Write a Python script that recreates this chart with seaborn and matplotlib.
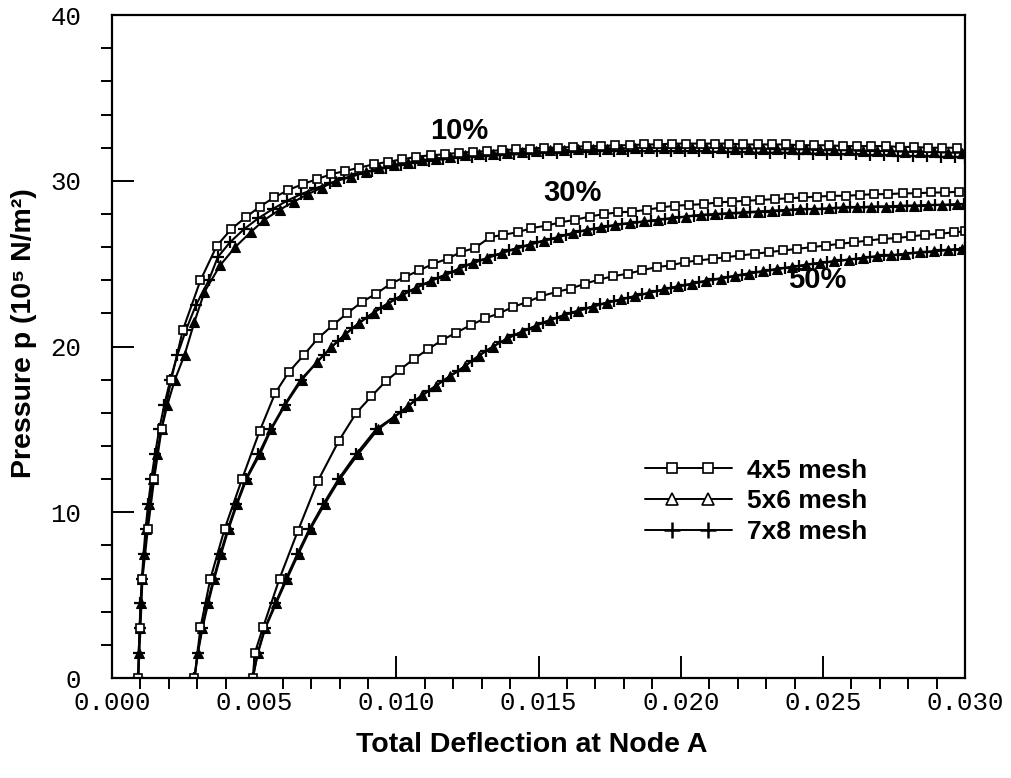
import matplotlib
matplotlib.use("Agg")
import matplotlib.pyplot as plt
import seaborn as sns
from matplotlib.lines import Line2D
from matplotlib.legend_handler import HandlerBase
from matplotlib.ticker import FixedLocator, MultipleLocator

# ---------------- data (deflection, pressure in 10^5 N/m^2) ----------------
x_10_4x5 = [0.00092, 0.00100, 0.00107, 0.00126, 0.00148, 0.00174, 0.00208, 0.00249, 0.00311, 0.00369,
            0.0042, 0.0047, 0.0052, 0.0057, 0.0062, 0.0067, 0.0072, 0.0077, 0.0082, 0.0087,
            0.0092, 0.0097, 0.0102, 0.0107, 0.0112, 0.0117, 0.0122, 0.0127, 0.0132, 0.0137,
            0.0142, 0.0147, 0.0152, 0.0157, 0.0162, 0.0167, 0.0172, 0.0177, 0.0182, 0.0187,
            0.0192, 0.0197, 0.0202, 0.0207, 0.0212, 0.0217, 0.0222, 0.0227, 0.0232, 0.0237,
            0.0242, 0.0247, 0.0252, 0.0257, 0.0262, 0.0267, 0.0272, 0.0277, 0.0282, 0.0287,
            0.0292, 0.0297]
p_10_4x5 = [0, 3, 6, 9, 12, 15, 18, 21, 24, 26.1,
            27.1, 27.8, 28.45, 29.0, 29.45, 29.8, 30.1, 30.4, 30.6, 30.8,
            31.0, 31.15, 31.3, 31.45, 31.55, 31.6, 31.7, 31.75, 31.8, 31.85,
            31.9, 31.95, 32.0, 32.0, 32.05, 32.1, 32.1, 32.15, 32.15, 32.2,
            32.2, 32.25, 32.25, 32.25, 32.25, 32.25, 32.2, 32.2, 32.2, 32.2,
            32.15, 32.15, 32.15, 32.1, 32.1, 32.1, 32.1, 32.05, 32.05, 32.0,
            32.0, 32.0]

x_10_5x6 = [0.00092, 0.00094, 0.00097, 0.00101, 0.00106, 0.00113, 0.00121, 0.00131, 0.00143, 0.00157,
            0.00174, 0.00195, 0.00221, 0.00255, 0.00290, 0.00325, 0.00380, 0.00433, 0.00487, 0.00536,
            0.00589, 0.00640, 0.00689, 0.00738, 0.00789, 0.00842, 0.00894, 0.0094, 0.0099, 0.0104,
            0.0109, 0.0114, 0.0119, 0.0124, 0.0129, 0.0134, 0.0139, 0.0144, 0.0149, 0.0154,
            0.0159, 0.0164, 0.0169, 0.0174, 0.0179, 0.0184, 0.0189, 0.0194, 0.0199, 0.0204,
            0.0209, 0.0214, 0.0219, 0.0224, 0.0229, 0.0234, 0.0239, 0.0244, 0.0249, 0.0254,
            0.0259, 0.0264, 0.0269, 0.0274, 0.0279, 0.0284, 0.0289, 0.0294, 0.0299]
p_10_5x6 = [0, 1.5, 3, 4.5, 6, 7.5, 9, 10.5, 12, 13.5,
            15, 16.5, 18, 19.5, 21.5, 23.3, 24.9, 26.0, 26.9, 27.65,
            28.25, 28.75, 29.2, 29.6, 30.0, 30.25, 30.55, 30.75, 30.95, 31.1,
            31.25, 31.35, 31.45, 31.55, 31.6, 31.65, 31.7, 31.75, 31.8, 31.85,
            31.85, 31.9, 31.9, 31.95, 31.95, 32.0, 32.0, 32.0, 32.0, 32.0,
            32.0, 32.0, 31.95, 31.95, 31.95, 31.9, 31.9, 31.9, 31.85, 31.85,
            31.85, 31.8, 31.8, 31.8, 31.75, 31.75, 31.75, 31.7, 31.7]

x_10_7x8 = [0.00092, 0.00094, 0.00097, 0.00100, 0.00105, 0.00111, 0.00118, 0.00127, 0.00138, 0.00151,
            0.00166, 0.00184, 0.00205, 0.00230, 0.00260, 0.00295, 0.00340, 0.00372, 0.00415, 0.00465,
            0.00515, 0.00565, 0.00615, 0.00665, 0.00715, 0.00765, 0.00815, 0.00865, 0.00915, 0.00965,
            0.01015, 0.01065, 0.01115, 0.01165, 0.01215, 0.01265, 0.01315, 0.01365, 0.01415, 0.01465,
            0.01515, 0.01565, 0.01615, 0.01665, 0.01715, 0.01765, 0.01815, 0.01865, 0.01915, 0.01965,
            0.02015, 0.02065, 0.02115, 0.02165, 0.02215, 0.02265, 0.02315, 0.02365, 0.02415, 0.02465,
            0.02515, 0.02565, 0.02615, 0.02665, 0.02715, 0.02765, 0.02815, 0.02865, 0.02915, 0.02965,
            0.03000]
p_10_7x8 = [0, 1.5, 3, 4.5, 6, 7.5, 9, 10.5, 12, 13.5,
            15, 16.5, 18, 19.5, 21, 22.5, 24, 25.4, 26.3, 27.1,
            27.75, 28.3, 28.8, 29.2, 29.55, 29.85, 30.15, 30.4, 30.6, 30.8,
            30.95, 31.1, 31.2, 31.3, 31.4, 31.45, 31.5, 31.55, 31.6, 31.65,
            31.7, 31.7, 31.75, 31.75, 31.8, 31.8, 31.8, 31.8, 31.8, 31.8,
            31.8, 31.8, 31.75, 31.75, 31.75, 31.7, 31.7, 31.7, 31.65, 31.65,
            31.6, 31.6, 31.6, 31.55, 31.55, 31.5, 31.5, 31.5, 31.45, 31.45,
            31.4]

x_30_4x5 = [0.00290, 0.00311, 0.00346, 0.00396, 0.00457, 0.00519, 0.00574, 0.00621, 0.00675, 0.00724,
            0.00777, 0.00826, 0.00879, 0.00930, 0.00980, 0.01030, 0.01080, 0.01130, 0.01180, 0.01226,
            0.01276, 0.01329, 0.01376, 0.01426, 0.01475, 0.01528, 0.01577, 0.01628, 0.01680, 0.01730,
            0.01780, 0.01830, 0.01880, 0.01930, 0.01980, 0.02030, 0.02080, 0.02130, 0.02180, 0.02230,
            0.02280, 0.02330, 0.02380, 0.02430, 0.02480, 0.02530, 0.02580, 0.02630, 0.02680, 0.02730,
            0.02780, 0.02830, 0.02880, 0.02930, 0.02980]
p_30_4x5 = [0, 3.05, 6.0, 9.0, 12.0, 14.9, 17.2, 18.45, 19.5, 20.5,
            21.3, 22.0, 22.7, 23.2, 23.8, 24.2, 24.6, 25.0, 25.3, 25.7,
            25.95, 26.6, 26.75, 26.9, 27.15, 27.3, 27.5, 27.65, 27.85, 28.0,
            28.1, 28.15, 28.25, 28.4, 28.5, 28.55, 28.6, 28.7, 28.75, 28.8,
            28.85, 28.9, 28.95, 29.0, 29.05, 29.1, 29.1, 29.15, 29.2, 29.2,
            29.25, 29.25, 29.3, 29.3, 29.35]

x_30_5x6 = [0.00290, 0.00302, 0.00318, 0.00338, 0.00360, 0.00384, 0.00410, 0.00440, 0.00473, 0.00520,
            0.00560, 0.00610, 0.00668, 0.0072, 0.0077, 0.0082, 0.0087, 0.0092, 0.0097, 0.0102,
            0.0107, 0.0112, 0.0117, 0.0122, 0.0127, 0.0132, 0.0137, 0.0142, 0.0147, 0.0152,
            0.0157, 0.0162, 0.0167, 0.0172, 0.0177, 0.0182, 0.0187, 0.0192, 0.0197, 0.0202,
            0.0207, 0.0212, 0.0217, 0.0222, 0.0227, 0.0232, 0.0237, 0.0242, 0.0247, 0.0252,
            0.0257, 0.0262, 0.0267, 0.0272, 0.0277, 0.0282, 0.0287, 0.0292, 0.0297, 0.0300]
p_30_5x6 = [0, 1.5, 3, 4.5, 6, 7.5, 9, 10.5, 12, 13.5,
            15, 16.5, 18, 19.05, 19.95, 20.75, 21.45, 22.05, 22.6, 23.1,
            23.55, 23.95, 24.3, 24.7, 25.05, 25.35, 25.65, 25.9, 26.15, 26.4,
            26.6, 26.85, 27.05, 27.2, 27.35, 27.45, 27.55, 27.65, 27.75, 27.85,
            27.95, 28.0, 28.05, 28.1, 28.15, 28.2, 28.25, 28.3, 28.3, 28.35,
            28.4, 28.4, 28.45, 28.45, 28.5, 28.5, 28.55, 28.55, 28.6, 28.6]

x_30_7x8 = [0.00290, 0.00301, 0.00316, 0.00335, 0.00357, 0.00381, 0.00407, 0.00437, 0.00470, 0.00515,
            0.00557, 0.00607, 0.00663, 0.00745, 0.00795, 0.00845, 0.00895, 0.00945, 0.00995, 0.01045,
            0.01095, 0.01145, 0.01195, 0.01245, 0.01295, 0.01345, 0.01395, 0.01445, 0.01495, 0.01545,
            0.01595, 0.01645, 0.01695, 0.01745, 0.01795, 0.01845, 0.01895, 0.01945, 0.01995, 0.02045,
            0.02095, 0.02145, 0.02195, 0.02245, 0.02295, 0.02345, 0.02395, 0.02445, 0.02495, 0.02545,
            0.02595, 0.02645, 0.02695, 0.02745, 0.02795, 0.02845, 0.02895, 0.02945, 0.02995]
p_30_7x8 = [0, 1.5, 3, 4.5, 6, 7.5, 9, 10.5, 12, 13.5,
            15, 16.5, 18, 19.5, 20.35, 21.1, 21.75, 22.35, 22.85, 23.35,
            23.75, 24.15, 24.5, 24.9, 25.2, 25.5, 25.8, 26.05, 26.3, 26.5,
            26.75, 26.95, 27.1, 27.25, 27.4, 27.5, 27.6, 27.7, 27.8, 27.9,
            27.95, 28.0, 28.05, 28.1, 28.15, 28.2, 28.25, 28.3, 28.3, 28.35,
            28.4, 28.4, 28.45, 28.45, 28.5, 28.5, 28.55, 28.55, 28.6]

x_50_4x5 = [0.00495, 0.00502, 0.00531, 0.00589, 0.00654, 0.00724, 0.00797, 0.00859, 0.00912, 0.00962,
            0.01012, 0.01061, 0.01112, 0.01162, 0.01211, 0.01262, 0.01311, 0.01360, 0.01411, 0.01461,
            0.01510, 0.01563, 0.01613, 0.01663, 0.01714, 0.01763, 0.01813, 0.01863, 0.01915, 0.01965,
            0.02015, 0.02062, 0.02115, 0.02160, 0.02210, 0.02260, 0.02310, 0.02360, 0.02410, 0.02460,
            0.02510, 0.02560, 0.02610, 0.02660, 0.02710, 0.02760, 0.02810, 0.02860, 0.02910, 0.02960,
            0.03000]
p_50_4x5 = [0, 1.5, 3.05, 6.0, 8.9, 11.9, 14.3, 16.0, 17.0, 17.9,
            18.6, 19.25, 19.85, 20.4, 20.85, 21.3, 21.7, 22.0, 22.4, 22.7,
            23.05, 23.3, 23.5, 23.8, 24.05, 24.25, 24.4, 24.6, 24.8, 24.9,
            25.1, 25.2, 25.3, 25.4, 25.5, 25.6, 25.7, 25.8, 25.9, 26.0,
            26.1, 26.2, 26.3, 26.4, 26.5, 26.55, 26.65, 26.75, 26.8, 26.9,
            26.95]

x_50_5x6 = [0.00495, 0.00513, 0.00539, 0.00577, 0.00616, 0.00656, 0.00698, 0.00748, 0.00801, 0.00865,
            0.00935, 0.0099, 0.0104, 0.0109, 0.0114, 0.0119, 0.0124, 0.0129, 0.0134, 0.0139,
            0.0144, 0.0149, 0.0154, 0.0159, 0.0164, 0.0169, 0.0174, 0.0179, 0.0184, 0.0189,
            0.0194, 0.0199, 0.0204, 0.0209, 0.0214, 0.0219, 0.0224, 0.0229, 0.0234, 0.0239,
            0.0244, 0.0249, 0.0254, 0.0259, 0.0264, 0.0269, 0.0274, 0.0279, 0.0284, 0.0289,
            0.0294, 0.0299]
p_50_5x6 = [0, 1.5, 3, 4.5, 6, 7.5, 9, 10.5, 12, 13.5,
            15, 15.7, 16.4, 17.05, 17.65, 18.25, 18.8, 19.45, 20.0, 20.5,
            20.9, 21.25, 21.6, 21.9, 22.15, 22.4, 22.65, 22.85, 23.05, 23.25,
            23.45, 23.65, 23.8, 23.95, 24.1, 24.25, 24.4, 24.55, 24.7, 24.8,
            24.95, 25.05, 25.15, 25.25, 25.35, 25.45, 25.5, 25.6, 25.7, 25.75,
            25.85, 25.9]

x_50_7x8 = [0.00495, 0.00512, 0.00537, 0.00574, 0.00612, 0.00652, 0.00694, 0.00743, 0.00796, 0.00858,
            0.00928, 0.01015, 0.01065, 0.01115, 0.01165, 0.01215, 0.01265, 0.01315, 0.01365, 0.01415,
            0.01465, 0.01515, 0.01565, 0.01615, 0.01665, 0.01715, 0.01765, 0.01815, 0.01865, 0.01915,
            0.01965, 0.02015, 0.02065, 0.02115, 0.02165, 0.02215, 0.02265, 0.02315, 0.02365, 0.02415,
            0.02465, 0.02515, 0.02565, 0.02615, 0.02665, 0.02715, 0.02765, 0.02815, 0.02865, 0.02915,
            0.02965, 0.03000]
p_50_7x8 = [0, 1.5, 3, 4.5, 6, 7.5, 9, 10.5, 12, 13.5,
            15, 16.05, 16.75, 17.35, 17.95, 18.5, 19.15, 19.75, 20.25, 20.7,
            21.05, 21.45, 21.75, 22.05, 22.3, 22.55, 22.75, 22.95, 23.15, 23.35,
            23.55, 23.7, 23.9, 24.05, 24.2, 24.35, 24.5, 24.6, 24.75, 24.85,
            25.0, 25.1, 25.2, 25.3, 25.4, 25.5, 25.55, 25.65, 25.7, 25.8,
            25.85, 25.95]

mesh_labels = ["4x5 mesh", "5x6 mesh", "7x8 mesh"]
curve_labels = ["10%", "30%", "50%"]
curve_label_x = [0.0122, 0.0162, 0.0248]
curve_label_y = [33.0, 29.25, 24.0]
x_ticks = [0.000, 0.005, 0.010, 0.015, 0.020, 0.025, 0.030]
y_ticks = [0, 10, 20, 30, 40]

# ---------------- styling ----------------
sns.set_theme(style="white")
plt.rcParams["font.family"] = ["Liberation Sans", "DejaVu Sans"]
plt.rcParams["text.color"] = "black"
plt.rcParams["axes.labelcolor"] = "black"

styles = {
    "4x5 mesh": dict(marker="s", markersize=6, markerfacecolor="white",
                     markeredgecolor="black", markeredgewidth=1.2),
    "5x6 mesh": dict(marker="^", markersize=6.5, markerfacecolor="black",
                     markeredgecolor="black", markeredgewidth=0.8),
    "7x8 mesh": dict(marker="+", markersize=8.5, markerfacecolor="black",
                     markeredgecolor="black", markeredgewidth=1.6),
}

fig = plt.figure(figsize=(10.12, 7.78), dpi=100)
ax = fig.add_axes([0.1107, 0.1285, 0.843, 0.852])

series = [
    ("7x8 mesh", x_10_7x8, p_10_7x8), ("5x6 mesh", x_10_5x6, p_10_5x6), ("4x5 mesh", x_10_4x5, p_10_4x5),
    ("7x8 mesh", x_30_7x8, p_30_7x8), ("5x6 mesh", x_30_5x6, p_30_5x6), ("4x5 mesh", x_30_4x5, p_30_4x5),
    ("7x8 mesh", x_50_7x8, p_50_7x8), ("5x6 mesh", x_50_5x6, p_50_5x6), ("4x5 mesh", x_50_4x5, p_50_4x5),
]
for mesh, xs, ps in series:
    sns.lineplot(x=xs, y=ps, ax=ax, sort=False, estimator=None, color="black",
                 linewidth=1.5, legend=False, **styles[mesh])

ax.set_xlim(0, 0.030)
ax.set_ylim(0, 40)
ax.xaxis.set_major_locator(FixedLocator(x_ticks))
ax.yaxis.set_major_locator(FixedLocator(y_ticks))
ax.set_xticklabels([f"{v:.3f}" for v in x_ticks])
ax.set_yticklabels([f"{v:d}" for v in y_ticks])
ax.xaxis.set_minor_locator(MultipleLocator(0.001))
ax.yaxis.set_minor_locator(MultipleLocator(2))

ax.tick_params(which="major", direction="in", length=16, width=1.4, color="black",
               labelsize=18.5, labelcolor="black", labelfontfamily="Liberation Mono")
ax.tick_params(axis="x", which="major", pad=9)
ax.tick_params(axis="y", which="major", pad=22)
ax.tick_params(which="minor", direction="out", length=8, width=1.4, color="black")
ax.tick_params(bottom=True, left=True, top=False, right=False)
ax.tick_params(which="minor", bottom=True, left=True, top=False, right=False)

for sp in ax.spines.values():
    sp.set_color("black")
    sp.set_linewidth(1.6)

ax.set_xlabel("Total Deflection at Node A", fontsize=20.5, fontweight="bold", color="black")
ax.set_ylabel("Pressure p (10\u2075 N/m\u00b2)", fontsize=20.5, fontweight="bold", color="black")
ax.xaxis.set_label_coords(0.492, -0.082)
ax.yaxis.set_label_coords(-0.088, 0.52)

for lab, lx, ly in zip(curve_labels, curve_label_x, curve_label_y):
    ax.text(lx, ly, lab, fontsize=21, fontweight="bold", ha="center", va="center", color="black")


class ExtLineHandler(HandlerBase):
    """Legend entry: a line spanning the handle with two markers set inside it."""
    def create_artists(self, legend, orig_handle, xdescent, ydescent, width, height, fontsize, trans):
        y = height / 2.0 - ydescent
        x0 = -xdescent
        line = Line2D([x0, x0 + width], [y, y], color="black", lw=orig_handle.get_linewidth())
        mk = Line2D([x0 + 0.31 * width, x0 + 0.72 * width], [y, y], linestyle="none",
                    marker=orig_handle.get_marker(), markersize=orig_handle.get_markersize(),
                    markerfacecolor=orig_handle.get_markerfacecolor(),
                    markeredgecolor=orig_handle.get_markeredgecolor(),
                    markeredgewidth=orig_handle.get_markeredgewidth())
        line.set_transform(trans)
        mk.set_transform(trans)
        return [line, mk]


handles = [
    Line2D([], [], color="black", lw=1.4, marker="s", markersize=6.5, markerfacecolor="white",
           markeredgecolor="black", markeredgewidth=1.2),
    Line2D([], [], color="black", lw=1.4, marker="^", markersize=8, markerfacecolor="white",
           markeredgecolor="black", markeredgewidth=1.2),
    Line2D([], [], color="black", lw=1.4, marker="+", markersize=11, markerfacecolor="black",
           markeredgecolor="black", markeredgewidth=1.8),
]
leg = ax.legend(handles, mesh_labels, loc="upper left", bbox_to_anchor=(0.625, 0.331),
                frameon=False, handlelength=3.3, handletextpad=0.55, labelspacing=0.26,
                borderaxespad=0, borderpad=0, prop={"weight": "bold", "size": 19},
                handler_map={Line2D: ExtLineHandler()})
for t in leg.get_texts():
    t.set_color("black")

fig.savefig("out.png", dpi=100)
